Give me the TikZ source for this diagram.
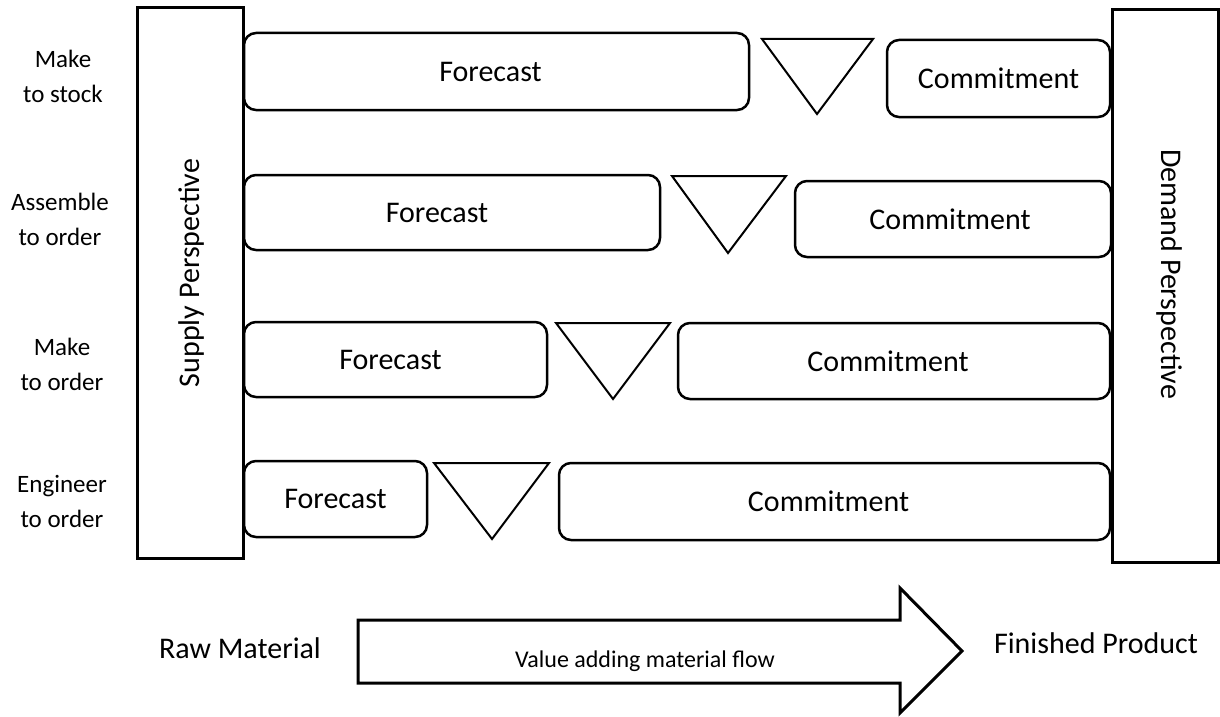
\documentclass[tikz,border=0pt]{standalone}
\usepackage{fontspec}
\setmainfont{Carlito}
\begin{document}
\begin{tikzpicture}[x=1pt,y=-1pt,
  rbox/.style={draw, line width=2.5pt, rounded corners=12pt, inner sep=0pt, font=\fontsize{30}{36}\selectfont},
  pbox/.style={draw, line width=3pt, inner sep=0pt},
  tri/.style={draw, line width=2pt, line join=miter},
  lab/.style={font=\fontsize{25}{35}\selectfont, align=center, inner sep=0pt},
  big/.style={font=\fontsize{30}{36}\selectfont, inner sep=0pt},
  mid/.style={font=\fontsize{24}{30}\selectfont, inner sep=0pt},
  flow/.style={draw, line width=3pt, line join=miter}
]
\useasboundingbox (0,0) rectangle (1220,717);

% perspective boxes
\node[pbox, minimum width=106pt, minimum height=550pt] (sp) at (190,283) {};
\node[pbox, minimum width=106pt, minimum height=552pt] (dp) at (1165,286) {};
\node[big, rotate=90] (spt) at (191,273) {Supply Perspective};
\node[big, rotate=-90] (dpt) at (1169,274) {Demand Perspective};

% row labels
\node[lab] (l1) at (63,76) {Make\\to stock};
\node[lab] (l2) at (60,219) {Assemble\\to order};
\node[lab] (l3) at (62,364) {Make\\to order};
\node[lab] (l4) at (62,501) {Engineer\\to order};

% row 1
\node[rbox, minimum width=505pt, minimum height=77pt] (f1) at (496.5,71.5) {\hspace*{-12pt}Forecast};
\draw[tri] (762,39) -- (873,39) -- (817,114) -- cycle;
\node[rbox, minimum width=223pt, minimum height=77pt] (c1) at (998.5,78.5) {Commitment};
% row 2
\node[rbox, minimum width=416pt, minimum height=75pt] (f2) at (452,212.5) {\hspace*{-30pt}Forecast};
\draw[tri] (672,176) -- (786,176) -- (728,253) -- cycle;
\node[rbox, minimum width=316pt, minimum height=76pt] (c2) at (953,219) {\hspace*{-6pt}Commitment};
% row 3
\node[rbox, minimum width=303pt, minimum height=75pt] (f3) at (395.5,359.5) {\hspace*{-10pt}Forecast};
\draw[tri] (556,323) -- (670,323) -- (613,399) -- cycle;
\node[rbox, minimum width=432pt, minimum height=76pt] (c3) at (894,361) {\hspace*{-12pt}Commitment};
% row 4
\node[rbox, minimum width=183pt, minimum height=76pt] (f4) at (335.5,499) {Forecast};
\draw[tri] (434,463) -- (549,463) -- (492,539) -- cycle;
\node[rbox, minimum width=551pt, minimum height=77pt] (c4) at (834.5,501.5) {\hspace*{-12pt}Commitment};

% bottom flow arrow
\draw[flow] (358,620) -- (900,620) -- (900,588) -- (962,651) -- (900,713) -- (900,683) -- (358,683) -- cycle;
\node[mid, anchor=base] (vt) at (645,667) {Value adding material flow};
\node[big, anchor=base] (rm) at (240,658) {Raw Material};
\node[big, anchor=base] (fp) at (1096,653) {Finished Product};
\end{tikzpicture}
\end{document}
